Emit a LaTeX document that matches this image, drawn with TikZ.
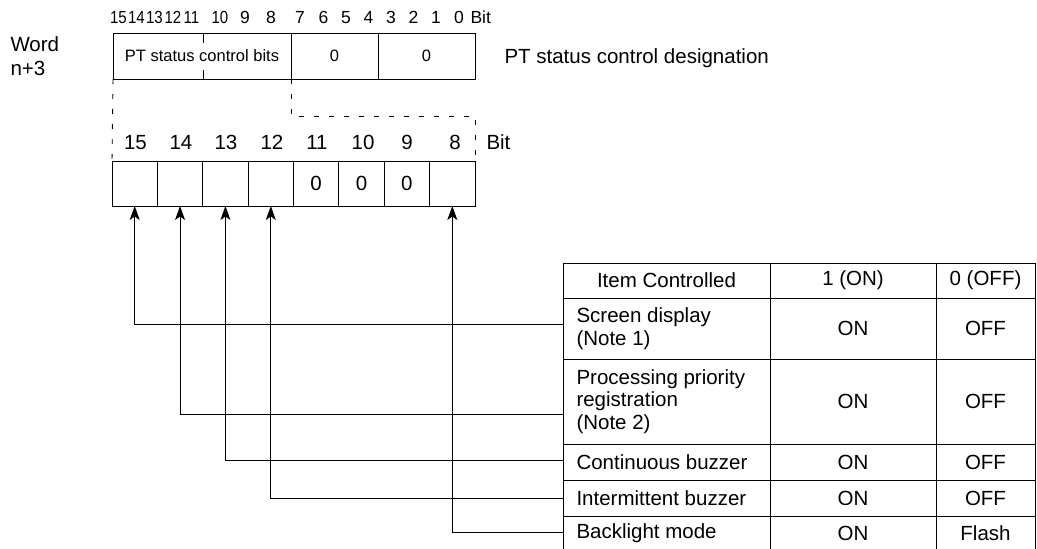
\documentclass[tikz,border=0pt]{standalone}
\usepackage{fontspec}
\setmainfont{Liberation Sans}
\usetikzlibrary{arrows.meta}
\begin{document}
\begin{tikzpicture}[x=1pt,y=-1pt,line width=1pt,
  small/.style={font=\fontsize{17.5}{19}\selectfont},
  mid/.style={font=\fontsize{16.5}{19}\selectfont},
  big/.style={font=\fontsize{20.5}{22.5}\selectfont},
  wbox/.style={draw,inner sep=0pt,outer sep=0pt,minimum height=46pt},
  cell/.style={draw,inner sep=0pt,outer sep=0pt,minimum width=45.375pt,minimum height=45pt},
  dsh/.style={line width=0.9pt,dash pattern=on 5pt off 10pt},
  arr/.style={-{Stealth[length=14pt,width=10pt,inset=3.5pt]},line width=1pt},
  lcol/.style={big,anchor=west,align=left,inner sep=0pt},
  ccol/.style={big,inner sep=0pt}]
\useasboundingbox (0,0) rectangle (1037,549);

% word label
\node[big,anchor=base west,inner sep=0pt] (w1) at (10,51) {Word};
\node[big,anchor=base west,inner sep=0pt] (w2) at (10,75) {n+3};

% top bit numbers
\foreach \k/\xx in {15/118.5,14/136.5,13/154.5,12/173,11/191.5,10/220}
  \node[small,anchor=base,inner sep=0pt] (t\k) at (\xx,23) {\scalebox{0.86}[1]{\k}};
\foreach \k/\xx in {9/245,8/271,7/300,6/323.5,5/346,4/368.5,3/391,2/413.5,1/436,0/459}
  \node[small,anchor=base,inner sep=0pt] (t\k) at (\xx,23) {\k};
\node[small,anchor=base west,inner sep=0pt] (tbit) at (470,23) {Bit};

% top word box
\node[wbox,minimum width=178pt,mid] (tA) at (202,56) {PT status control bits};
\node[wbox,minimum width=87pt,mid] (tB) at (334.5,56) {0};
\node[wbox,minimum width=97pt,mid] (tC) at (426.5,56) {0};
\draw ([xshift=1pt]tA.north) -- ++(0,10);
\draw ([xshift=1pt]tA.south) -- ++(0,-9);
\node[big,anchor=base west,inner sep=0pt] (desig) at (504,63) {PT status control designation};

% lower bit cells
\foreach \k [count=\i from 0] in {15,14,13,12,11,10,9,8}
  \node[cell] (b\k) at ({112+45.375*\i+22.6875},183.5) {};
\foreach \k in {11,10,9}
  \node[big] (z\k) at (b\k.center) {0};
\foreach \k/\xx in {15/135.5,14/181,13/226,12/272,11/317,10/363,9/407,8/455}
  \node[big,anchor=base,inner sep=0pt] (n\k) at (\xx,149) {\k};
\node[big,anchor=base west,inner sep=0pt] (nbit) at (486,149) {Bit};

% dashed expansion lines
\draw[dsh] (tA.south west) -- (b15.north west);
\coordinate (d1) at (tB.south west |- 0,116);
\coordinate (d2) at (b8.north east |- 0,116);
\draw[dsh] (tB.south west) -- (d1) -- (d2) -- (b8.north east);

% table grid
\draw (563,263) -- (1035,263);
\foreach \yy in {298,359,444,480,516} \draw (563,\yy) -- (1035,\yy);
\foreach \xx in {563,770,936,1035} \draw (\xx,263) -- (\xx,549);

% table text
\node[ccol] (h1) at (666.5,280.5) {Item Controlled};
\node[ccol] (h2) at (853,280.5) {1 (ON)};
\node[ccol] (h3) at (985.5,280.5) {0 (OFF)};

\node[lcol] (r1) at (576,328.5) {Screen display\\(Note 1)};
\node[ccol] (r1a) at (853,328.5) {ON};
\node[ccol] (r1b) at (985.5,328.5) {OFF};

\node[lcol] (r2) at (576,401.5) {Processing priority\\registration\\(Note 2)};
\node[ccol] (r2a) at (853,401.5) {ON};
\node[ccol] (r2b) at (985.5,401.5) {OFF};

\node[lcol] (r3) at (576,462) {Continuous buzzer};
\node[ccol] (r3a) at (853,462) {ON};
\node[ccol] (r3b) at (985.5,462) {OFF};

\node[lcol] (r4) at (576,498) {Intermittent buzzer};
\node[ccol] (r4a) at (853,498) {ON};
\node[ccol] (r4b) at (985.5,498) {OFF};

\node[lcol] (r5) at (576,533) {Backlight mode};
\node[ccol] (r5a) at (853,533) {ON};
\node[ccol] (r5b) at (985.5,533) {Flash};

% connectors
\coordinate (e15) at (563,324);
\coordinate (e14) at (563,414);
\coordinate (e13) at (563,460);
\coordinate (e12) at (563,498);
\coordinate (e8) at (563,532);
\foreach \k in {15,14,13,12,8}
  \draw[arr] (e\k) -| (b\k.south);
\end{tikzpicture}
\end{document}
